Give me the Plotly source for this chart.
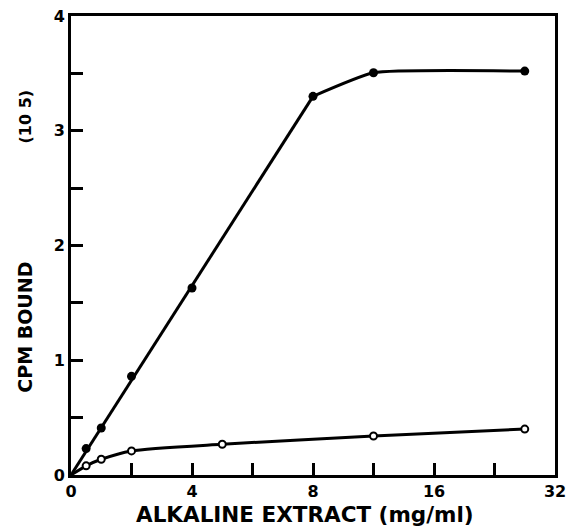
import plotly.graph_objects as go

# ---- data (real units) ----
x_filled = [0.5, 1, 2, 4, 8, 12, 28]
y_filled = [0.23, 0.41, 0.86, 1.63, 3.30, 3.505, 3.52]

x_open = [0.5, 1, 2, 5, 12, 28]
y_open = [0.08, 0.137, 0.21, 0.268, 0.34, 0.40]

# hand-drawn fitted curve through the filled points (straight rise, then plateau)
fit_rise_x = [0, 8]
fit_rise_y = [0, 3.30]
fit_plateau_x = [8, 12, 28]
fit_plateau_y = [3.30, 3.505, 3.52]

# open curve starts at origin
open_curve_x = [0] + x_open
open_curve_y = [0] + y_open

tick_values = [0, 4, 8, 16, 32]
tick_labels = ["0", "4", "8", "16", "32"]
y_ticks = [0, 1, 2, 3, 4]


def xpos(v):
    """Broken x scale: 0-8 linear (4 per division), 8-16 one division, 16-32 one division."""
    if v <= 8:
        return v / 4.0
    if v <= 16:
        return 2 + (v - 8) / 8.0
    return 3 + (v - 16) / 16.0


FONT = "DejaVu Sans"
LINE = dict(color="black", width=3)

fig = go.Figure()

fig.add_trace(go.Scatter(
    x=[xpos(v) for v in fit_rise_x], y=fit_rise_y, mode="lines",
    line=LINE, hoverinfo="skip", showlegend=False))
fig.add_trace(go.Scatter(
    x=[xpos(v) for v in fit_plateau_x], y=fit_plateau_y, mode="lines",
    line=dict(LINE, shape="spline", smoothing=0.45), hoverinfo="skip", showlegend=False))
fig.add_trace(go.Scatter(
    x=[xpos(v) for v in open_curve_x], y=open_curve_y, mode="lines",
    line=dict(LINE, shape="spline", smoothing=0.6), hoverinfo="skip", showlegend=False))

# markers
fig.add_trace(go.Scatter(
    x=[xpos(v) for v in x_filled], y=y_filled, mode="markers",
    marker=dict(symbol="circle", size=9, color="black"), showlegend=False))
fig.add_trace(go.Scatter(
    x=[xpos(v) for v in x_open], y=y_open, mode="markers",
    marker=dict(symbol="circle", size=7, color="white", line=dict(color="black", width=2)),
    showlegend=False))

axis_common = dict(
    showgrid=False, zeroline=False, showline=True, linecolor="black", linewidth=3,
    mirror=True, ticks="inside", ticklen=12, tickwidth=3, tickcolor="black",
    tickfont=dict(family=FONT, size=16, color="black", weight="bold"),
    ticklabelstandoff=0, ticklabeloverflow="allow", automargin=False,
)
minor = dict(dtick=0.5, tick0=0, ticks="inside", ticklen=12, tickwidth=3, tickcolor="black")

fig.update_xaxes(range=[0, 4], tickvals=[xpos(v) for v in tick_values], ticktext=tick_labels,
                 minor=minor, **axis_common)
fig.update_yaxes(range=[0, 4], tickvals=y_ticks, ticktext=[str(v) for v in y_ticks],
                 minor=minor, **axis_common)

fig.add_annotation(text="ALKALINE EXTRACT (mg/ml)", xref="paper", yref="paper",
                   x=0.483, y=-0.087, xanchor="center", yanchor="middle", showarrow=False,
                   font=dict(family=FONT, size=21.5, color="black", weight="bold"))
fig.add_annotation(text="CPM BOUND", xref="paper", yref="paper",
                   x=-0.094, y=0.322, xanchor="center", yanchor="middle",
                   textangle=-90, showarrow=False,
                   font=dict(family=FONT, size=19, color="black", weight="bold"))
fig.add_annotation(text="(10 5)", xref="paper", yref="paper",
                   x=-0.094, y=0.78, xanchor="center", yanchor="middle",
                   textangle=-90, showarrow=False,
                   font=dict(family=FONT, size=16, color="black", weight="bold"))

fig.update_layout(
    width=567, height=529,
    margin=dict(l=71, r=12, t=16, b=54, autoexpand=False),
    plot_bgcolor="white", paper_bgcolor="white",
)

# remove the default page-body margin so the figure fills the window exactly
fig.write_html("out.html", config={"displayModeBar": False},
               post_script="document.body.style.margin='0';document.body.style.overflow='hidden';")
